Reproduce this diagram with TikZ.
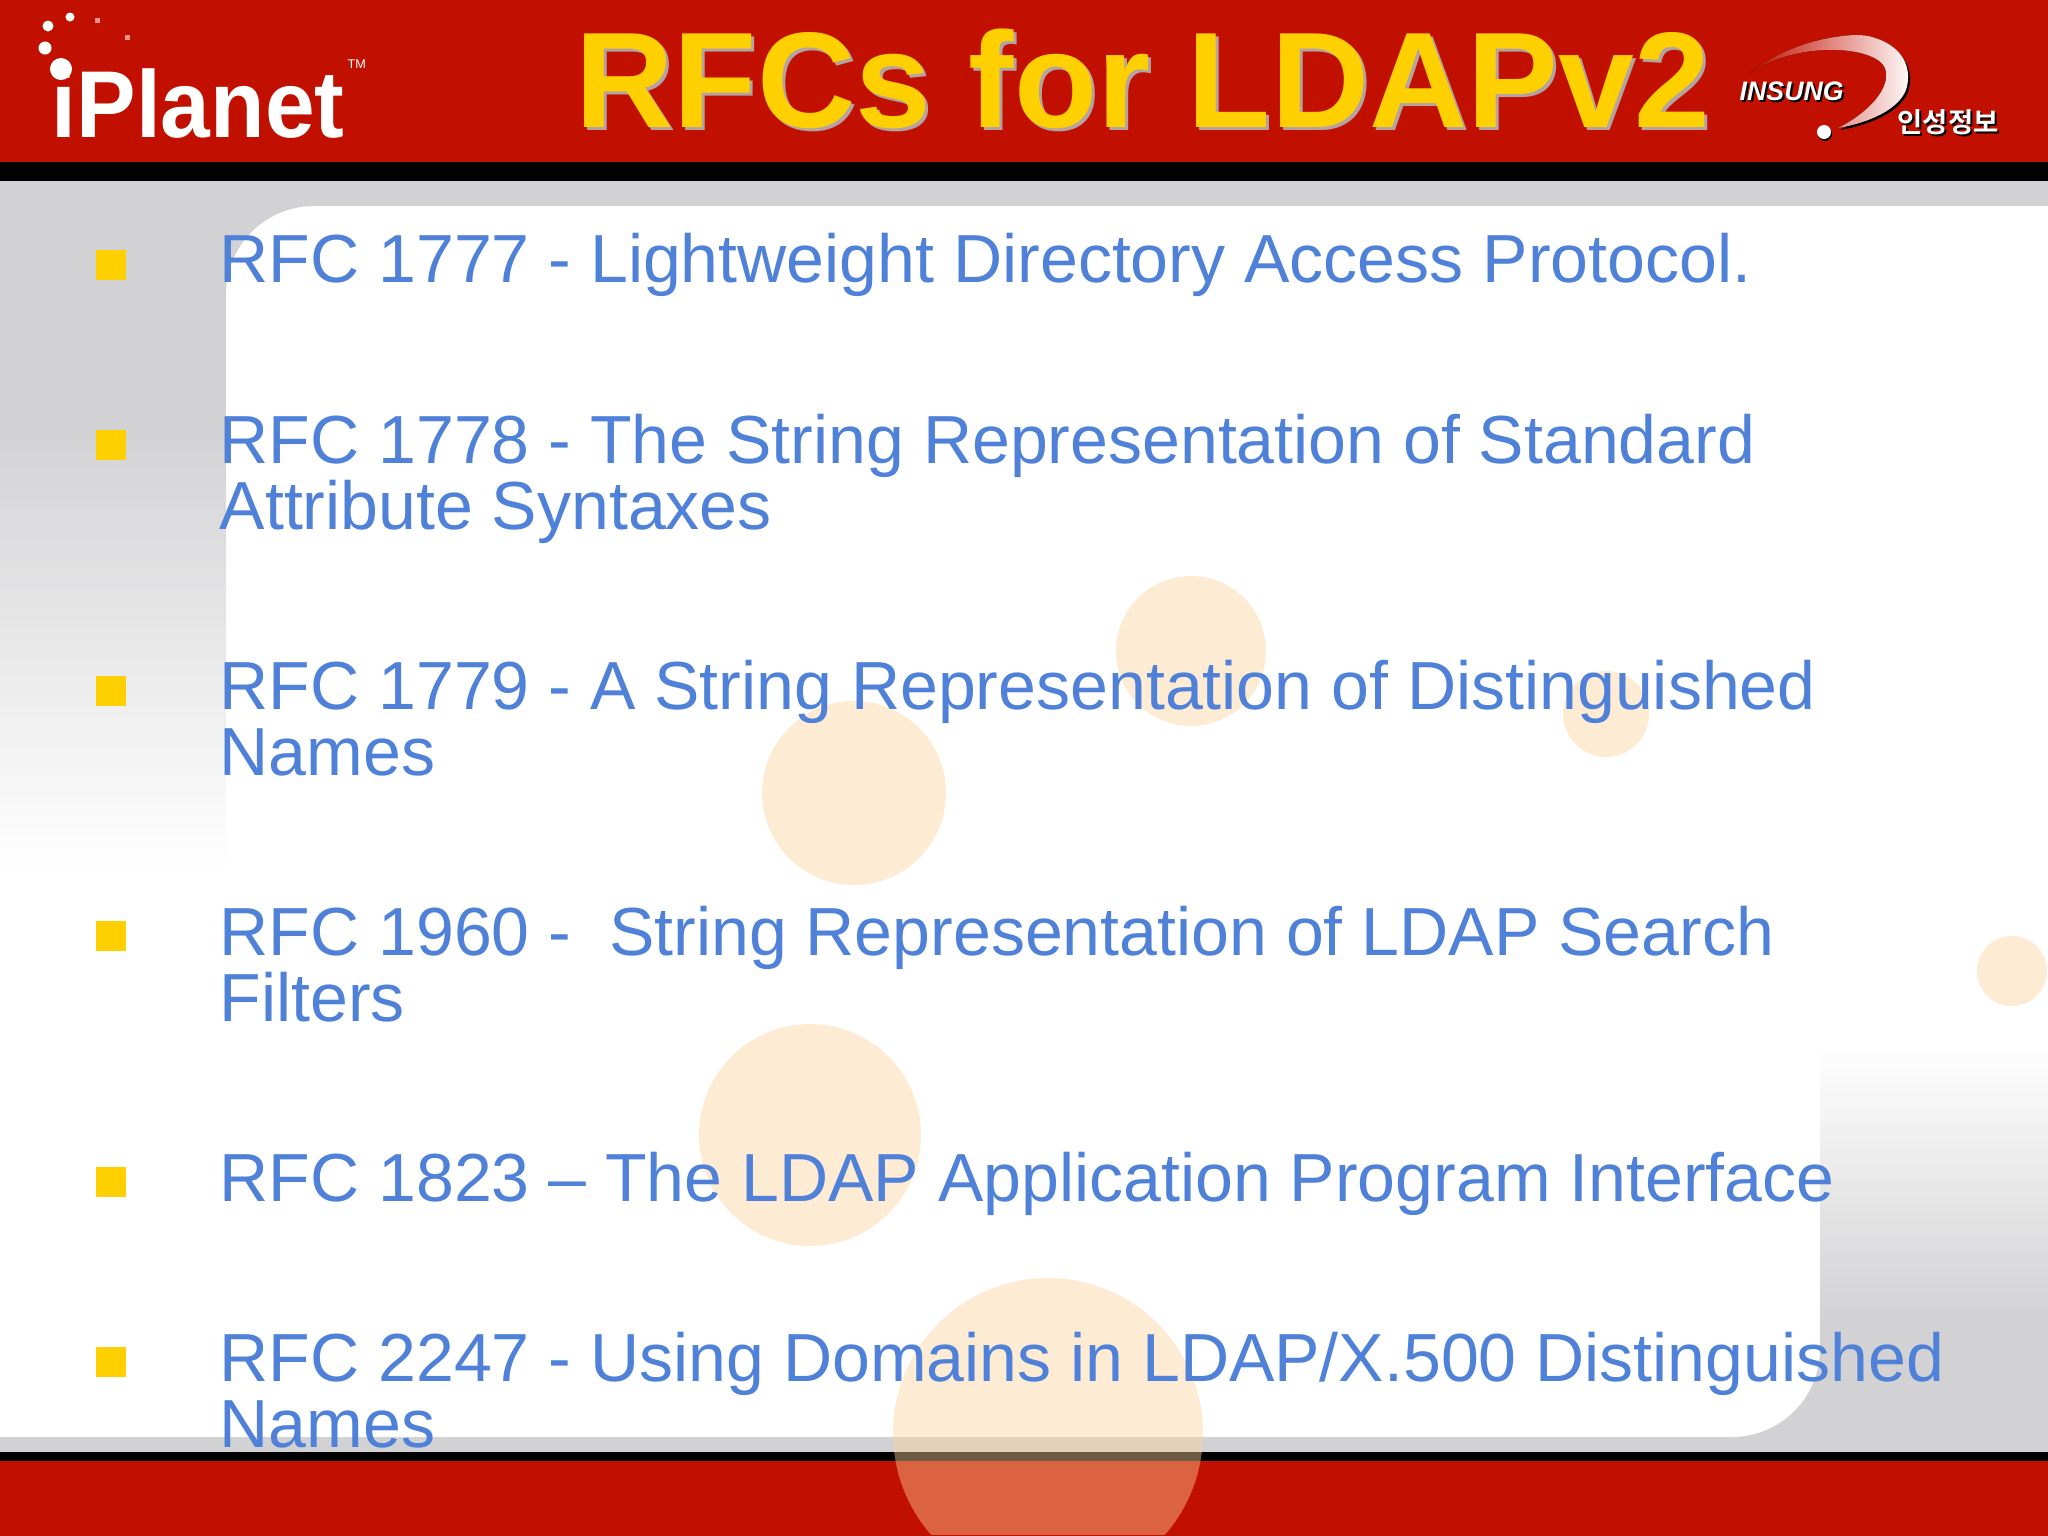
\documentclass[tikz,border=0pt]{standalone}
\usepackage{fontspec}
\setmainfont{Liberation Sans}
\newfontfamily\krfont{Noto Sans CJK KR Bold}
\newfontfamily\planetfont[FakeStretch=0.94]{Liberation Sans Bold}
\usepackage{xcolor}
\definecolor{slidered}{HTML}{C21000}
\definecolor{panelgrey}{HTML}{D2D2D4}
\definecolor{bubble}{HTML}{FDD199}
\definecolor{itemblue}{HTML}{4F81D9}
\definecolor{gold}{HTML}{FFD000}
\definecolor{titleshadow}{HTML}{B3A3A3}
\tikzset{
  band/.style={fill=slidered, draw=none},
  bar/.style={fill=black, draw=none},
  spot/.style={fill=bubble, draw=none, fill opacity=0.43},
  bullet/.style={fill=gold, draw=none, minimum size=0.3cm, inner sep=0pt},
  item/.style={text=itemblue, anchor=base west, inner sep=0pt, align=left,
    font=\fontsize{19.35}{18.6}\selectfont},
  headline/.style={anchor=base west, inner sep=0pt,
    font=\bfseries\fontsize{38.7}{38.7}\selectfont},
  brand/.style={text=white, anchor=base west, inner sep=0pt,
    font=\planetfont\fontsize{27}{27}\selectfont},
  star/.style={circle, fill=white, inner sep=0pt},
  spark/.style={fill=white!55!slidered, draw=none},
  insung/.style={anchor=base west, inner sep=0pt,
    font=\bfseries\itshape\fontsize{7.6}{7.6}\selectfont},
  hangul/.style={anchor=base west, inner sep=0pt,
    font=\krfont\fontsize{7.8}{7.8}\selectfont},
}
\begin{document}
\begin{tikzpicture}[x=0.01cm,y=-0.01cm]
  \useasboundingbox (0,0) rectangle (2048,1536);
  % background
  \fill[white] (0,0) rectangle (2048,1536);
  \fill[panelgrey] (0,181) rectangle (226,425);
  \shade[top color=panelgrey, bottom color=white] (0,425) rectangle (226,870);
  \shade[top color=white, bottom color=panelgrey] (1820,1045) rectangle (2048,1320);
  \fill[panelgrey] (1820,1320) rectangle (2048,1452);
  \fill[panelgrey] (0,181) rectangle (2048,206);
  \fill[panelgrey] (0,1437) rectangle (2048,1452);
  \fill[panelgrey] (226,206) -- (314,206) arc (270:180:88) -- cycle;
  \fill[panelgrey] (1820,1437) -- (1732,1437) arc (90:0:88) -- cycle;
  \fill[band] (0,0) rectangle (2048,162);
  \fill[bar] (0,162) rectangle (2048,181);
  \fill[band] (0,1461) rectangle (2048,1536);
  \fill[bar] (0,1452) rectangle (2048,1461);

  % bubbles
  \fill[spot] (1191,651) circle (75);
  \fill[spot] (854,793) circle (92);
  \fill[spot] (1606,714) circle (43);
  \fill[spot] (2012,971) circle (35);
  \fill[spot] (810,1135) circle (111);
  \begin{scope}
    \clip (0,0) rectangle (2048,1534);
    \fill[spot] (1048,1433) circle (155);
  \end{scope}

  % iPlanet logo
  \node[brand] (planet) at (51,137) {iPlanet};
  \node[star, minimum size=0.22cm] (stara) at (61,69) {};
  \node[star, minimum size=0.13cm] (starb) at (45,48) {};
  \node[star, minimum size=0.11cm] (starc) at (48,26) {};
  \node[star, minimum size=0.09cm] (stard) at (70,17) {};
  \fill[spark] (95,18) rectangle (100,23);
  \fill[spark] (125,35) rectangle (130,40);
  \node[anchor=base west, inner sep=0pt, text=white, font=\fontsize{3.6}{3.6}\selectfont] (tm) at (347,68) {TM};

  % title
  \node[headline, text=titleshadow] (titleback) at (578,130) {RFCs for LDAPv2};
  \node[headline, text=gold] (title) at (575,127) {RFCs for LDAPv2};

  % Insung logo
  \fill[black] (1872,40) .. controls (1905,48) and (1915,70) .. (1908,92)
    .. controls (1900,112) and (1870,125) .. (1840,130)
    .. controls (1870,115) and (1895,90) .. (1889,72)
    -- cycle;
  \fill[left color=slidered, middle color=white, right color=white]
    (1750,73) .. controls (1790,40) and (1850,32) .. (1868,36)
    .. controls (1903,44) and (1913,68) .. (1906,90)
    .. controls (1898,110) and (1868,123) .. (1838,128)
    .. controls (1868,113) and (1892,88) .. (1885,68)
    .. controls (1876,46) and (1798,40) .. cycle;
  \node[insung, text=black] (insungback) at (1741,102) {INSUNG};
  \node[insung, text=white] (insungname) at (1739,100) {INSUNG};
  \fill[black] (1825,134) circle (7);
  \node[star, minimum size=0.14cm] (insungdot) at (1824,132) {};
  \node[hangul, text=black] (hangulback) at (1899,134) {인성정보};
  \node[hangul, text=white] (hangulname) at (1897,132) {인성정보};

  % list
  \node[bullet] (marka) at (111,265) {};
  \node[bullet] (markb) at (111,445) {};
  \node[bullet] (markc) at (111,691) {};
  \node[bullet] (markd) at (111,936) {};
  \node[bullet] (marke) at (111,1182) {};
  \node[bullet] (markf) at (111,1362) {};
  \node[item] (rfca) at (219,282.5) {RFC 1777 - Lightweight Directory Access Protocol.};
  \node[item] (rfcb) at (219,529) {RFC 1778 - The String Representation of Standard\\Attribute Syntaxes};
  \node[item] (rfcc) at (219,775) {RFC 1779 - A String Representation of Distinguished\\Names};
  \node[item] (rfcd) at (219,1021) {RFC 1960 -~ String Representation of LDAP Search\\Filters};
  \node[item] (rfce) at (219,1201) {RFC 1823 – The LDAP Application Program Interface};
  \node[item] (rfcf) at (219,1447) {RFC 2247 - Using Domains in LDAP/X.500 Distinguished\\Names};
\end{tikzpicture}
\end{document}
